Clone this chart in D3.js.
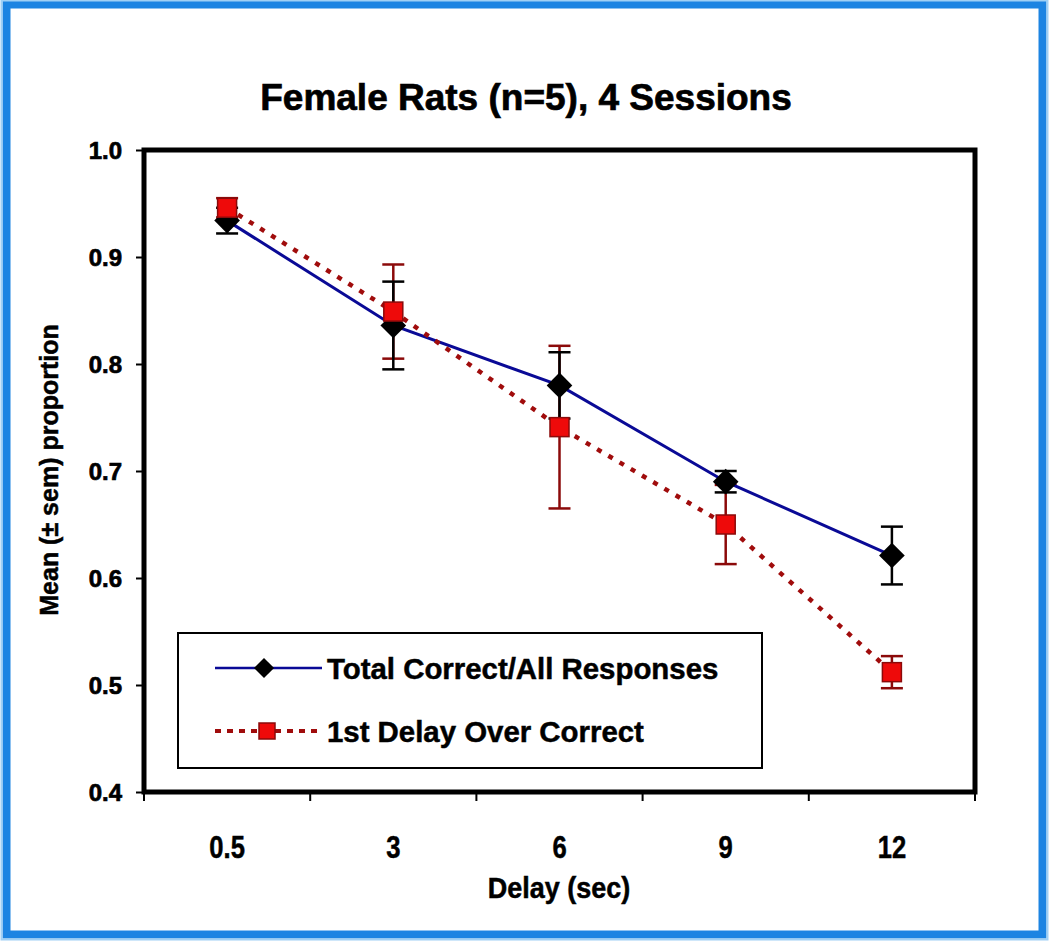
<!DOCTYPE html>
<html>
<head>
<meta charset="utf-8">
<script src="https://cdn.jsdelivr.net/npm/d3@7"></script>
<style>
  html, body { margin: 0; padding: 0; background: #fff; }
  svg { display: block; }
  .narrow { font-family: "Liberation Sans", Arial, sans-serif; font-weight: bold; stroke: #000; stroke-width: 0.5; }
  .wide { font-family: "Liberation Sans", Arial, sans-serif; font-weight: bold; stroke: #000; stroke-width: 0.7; }
</style>
</head>
<body>
<script>
// ---- data ----
const categories = ["0.5", "3", "6", "9", "12"];
const totalCorrect = [0.934, 0.836, 0.780, 0.690, 0.621];
const totalSem = [0.012, 0.041, 0.031, 0.010, 0.027];
const firstDelay = [0.946, 0.849, 0.741, 0.650, 0.512];
const firstDelaySem = [0.009, 0.044, 0.076, 0.037, 0.015];
const yTicks = [0.4, 0.5, 0.6, 0.7, 0.8, 0.9, 1.0];
const seriesNames = ["Total Correct/All Responses", "1st Delay Over Correct"];
const titleText = "Female Rats (n=5), 4 Sessions";
const xTitle = "Delay (sec)";
const yTitle = "Mean (\u00b1 sem) proportion";

const W = 1050, H = 943;
const svg = d3.select("body").append("svg").attr("width", W).attr("height", H);

// outer blue frame
svg.append("rect").attr("x", 0).attr("y", 0).attr("width", W).attr("height", H).attr("fill", "#fff");
svg.append("rect").attr("x", 6.5).attr("y", 4.5).attr("width", 1036).attr("height", 930)
  .attr("fill", "none").attr("stroke", "#1c84e2").attr("stroke-width", 8);
svg.append("rect").attr("x", 1.5).attr("y", 0.5).attr("width", 1046).attr("height", 939)
  .attr("fill", "none").attr("stroke", "#9fd0f5").attr("stroke-width", 2);

const plot = { left: 144, right: 975, top: 150, bottom: 792 };

const x = d3.scaleBand().domain(categories).range([plot.left, plot.right]).padding(0);
const y = d3.scaleLinear().domain([0.4, 1.0]).range([plot.bottom, plot.top]);
const cx = c => x(c) + x.bandwidth() / 2;

// title
svg.append("text").attr("class", "wide").attr("x", 526).attr("y", 110)
  .attr("text-anchor", "middle").attr("font-size", 37).text(titleText);

// y axis
const yAxis = d3.axisLeft(y).tickValues(yTicks).tickFormat(d3.format(".1f")).tickSize(8).tickPadding(14);
const gy = svg.append("g").attr("transform", `translate(${plot.left},0)`).call(yAxis);
gy.select(".domain").remove();
gy.selectAll(".tick line").attr("stroke", "#000").attr("stroke-width", 2);
gy.selectAll(".tick text").attr("class", "wide").attr("font-size", 24).attr("fill", "#000").attr("dy", "0.36em");

// x axis labels (band centers)
const xAxis = d3.axisBottom(x).tickSize(0).tickPadding(43);
const gx = svg.append("g").attr("transform", `translate(0,${plot.bottom})`).call(xAxis);
gx.select(".domain").remove();
gx.selectAll(".tick text").attr("class", "narrow").attr("font-size", 32).attr("fill", "#000")
  .attr("transform", "scale(0.8,1)");

// x boundary ticks
const boundaries = categories.map(c => x(c)).concat([x(categories[categories.length - 1]) + x.bandwidth()]);
svg.append("g").selectAll("line").data(boundaries).join("line")
  .attr("x1", d => d).attr("x2", d => d).attr("y1", plot.bottom).attr("y2", plot.bottom + 9)
  .attr("stroke", "#000").attr("stroke-width", 2);

// axis titles
svg.append("text").attr("class", "narrow").attr("transform", "translate(559,898) scale(0.9,1)")
  .attr("text-anchor", "middle").attr("font-size", 30).text(xTitle);
svg.append("text").attr("class", "narrow")
  .attr("transform", `translate(58,470) rotate(-90)`)
  .attr("text-anchor", "middle").attr("font-size", 25).text(yTitle);

// plot frame
svg.append("rect").attr("x", plot.left).attr("y", plot.top)
  .attr("width", plot.right - plot.left).attr("height", plot.bottom - plot.top)
  .attr("fill", "none").attr("stroke", "#000").attr("stroke-width", 5);

const capW = 11;
function errorBars(vals, sems, color) {
  const g = svg.append("g").attr("stroke", color).attr("stroke-width", 2.5);
  categories.forEach((c, i) => {
    const xx = cx(c), y1 = y(vals[i] + sems[i]), y2 = y(vals[i] - sems[i]);
    g.append("line").attr("x1", xx).attr("x2", xx).attr("y1", y1).attr("y2", y2);
    g.append("line").attr("x1", xx - capW).attr("x2", xx + capW).attr("y1", y1).attr("y2", y1);
    g.append("line").attr("x1", xx - capW).attr("x2", xx + capW).attr("y1", y2).attr("y2", y2);
  });
}
errorBars(firstDelay, firstDelaySem, "#8b0a0a");
errorBars(totalCorrect, totalSem, "#000");

const line = d3.line().x((d, i) => cx(categories[i])).y(d => y(d));
svg.append("path").datum(totalCorrect).attr("d", line)
  .attr("fill", "none").attr("stroke", "#0a0a96").attr("stroke-width", 3);
svg.append("path").datum(firstDelay).attr("d", line)
  .attr("fill", "none").attr("stroke", "#a00c0c").attr("stroke-width", 4.5)
  .attr("stroke-dasharray", "5,8");

const diamond = d3.symbol().type(d3.symbolDiamond2).size(420);
svg.append("g").selectAll("path").data(totalCorrect).join("path")
  .attr("d", diamond)
  .attr("transform", (d, i) => `translate(${cx(categories[i])},${y(d)})`)
  .attr("fill", "#000");

const sq = 19;
svg.append("g").selectAll("rect").data(firstDelay).join("rect")
  .attr("x", (d, i) => cx(categories[i]) - sq / 2).attr("y", d => y(d) - sq / 2)
  .attr("width", sq).attr("height", sq)
  .attr("fill", "#ee0a0a").attr("stroke", "#8b0a0a").attr("stroke-width", 1.5);

// legend
const lg = svg.append("g");
lg.append("rect").attr("x", 178).attr("y", 633).attr("width", 584).attr("height", 135)
  .attr("fill", "#fff").attr("stroke", "#000").attr("stroke-width", 2);
const legendY = [668, 731];
lg.append("line").attr("x1", 215).attr("x2", 322).attr("y1", legendY[0]).attr("y2", legendY[0])
  .attr("stroke", "#0a0a96").attr("stroke-width", 2.5);
lg.append("path").attr("d", d3.symbol().type(d3.symbolDiamond2).size(260))
  .attr("transform", `translate(264,${legendY[0]})`).attr("fill", "#000");
lg.append("line").attr("x1", 215).attr("x2", 322).attr("y1", legendY[1]).attr("y2", legendY[1])
  .attr("stroke", "#a00c0c").attr("stroke-width", 4).attr("stroke-dasharray", "6,6");
lg.append("rect").attr("x", 259).attr("y", legendY[1] - 8).attr("width", 16).attr("height", 16)
  .attr("fill", "#ee0a0a").attr("stroke", "#8b0a0a").attr("stroke-width", 1.5);
seriesNames.forEach((n, i) => {
  lg.append("text").attr("class", "narrow").attr("x", 327).attr("y", legendY[i] + 11)
    .attr("font-size", 30).attr("transform", `translate(327,0) scale(0.98,1) translate(-327,0)`).text(n);
});
</script>
</body>
</html>
